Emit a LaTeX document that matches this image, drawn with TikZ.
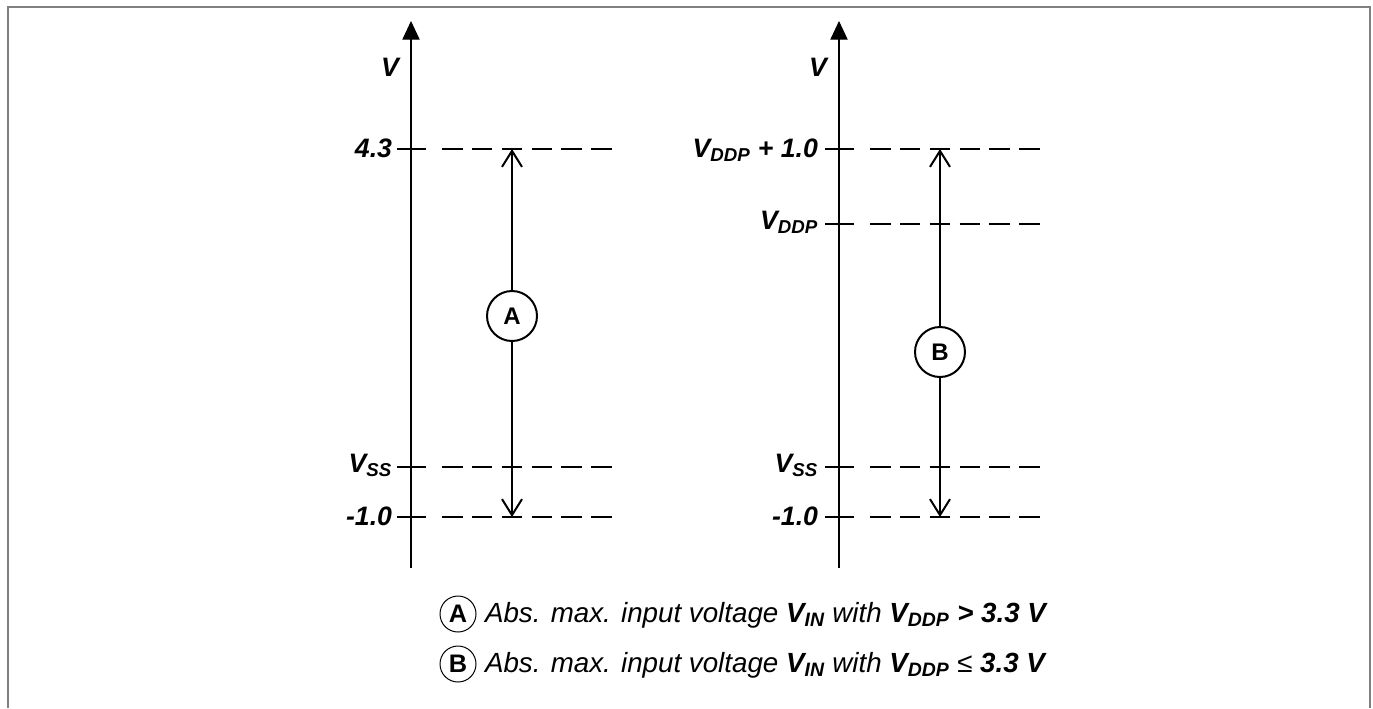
\documentclass[tikz,border=0pt]{standalone}
\usepackage{fontspec}
\setmainfont{Liberation Sans}
\usetikzlibrary{arrows.meta}
\tikzset{vdiag/.style={x=0.75pt,y=-0.75pt,line width=1.5pt},
  lvl/.style={line width=1.5pt,dash pattern=on 15.4pt off 7pt},
  vlab/.style={anchor=base east,inner sep=0pt,font=\fontsize{20}{24}\selectfont\bfseries\itshape},
  rng/.style={draw,circle,fill=white,line width=1.5pt,minimum size=37.5pt,inner sep=0pt,font=\fontsize{18}{20}\selectfont\bfseries},
  key/.style={draw,circle,line width=0.75pt,minimum size=27pt,inner sep=0pt,font=\fontsize{19}{20}\selectfont\bfseries},
  keytxt/.style={anchor=base west,inner sep=0pt,font=\fontsize{20.8}{24}\selectfont\itshape}}
\newcommand{\vsub}[1]{\textsubscript{#1}}

\begin{document}
\begin{tikzpicture}[vdiag]
    \useasboundingbox (0,0) rectangle (1373,708);
    \draw[black!50] (8,708) |- (1370,7) -- (1370,708);
    % axes
    \foreach \ax/\nm in {411/L,839/R} {
      \coordinate (bot\nm) at (\ax,568);
      \coordinate (top\nm) at (\ax,21);
      \draw[line width=0.8pt,-{Triangle[length=14pt,width=13pt]}] (bot\nm) -- (top\nm);
      \node[vlab] (v\nm) at ({\ax-11},76) {V};
    }
    % levels: y, label  (left diagram)
    \foreach \y/\lab/\dy in {149/4.3/8, 467/V\vsub{SS}/5, 517/-1.0/8} {
      \draw (397,\y) -- (426,\y);
      \draw[lvl] (442,\y) -- (614,\y);
      \node[vlab] at (393,\y+\dy) {\lab};
    }
    % levels (right diagram)
    \foreach \y/\lab/\dy in {149/V\vsub{DDP} + 1.0/8, 224/V\vsub{DDP}/5, 467/V\vsub{SS}/5, 517/-1.0/8} {
      \draw (825,\y) -- (854,\y);
      \draw[lvl] (870,\y) -- (1042,\y);
      \node[vlab] at (819,\y+\dy) {\lab};
    }
    % ranges
    \coordinate (hiA) at (512,149);
    \coordinate (loA) at (512,517);
    \coordinate (hiB) at (940,149);
    \coordinate (loB) at (940,517);
    \node[rng] (rngA) at (512,316) {A};
    \node[rng] (rngB) at (940,352) {B};
    \foreach \r in {A,B} {
      \draw[-{Straight Barb[length=12pt,width=15pt]}] (rng\r) -- (hi\r);
      \draw[-{Straight Barb[length=12pt,width=15pt]}] (rng\r) -- (lo\r);
    }
    % legend
    \node[key] (keyA) at (458,614) {A};
    \node[key] (keyB) at (458,664) {B};
    \node[keytxt] (txtA) at (484,622) {Abs. max. input voltage \textbf{V\vsub{IN}} with \textbf{V\vsub{DDP} > 3.3 V}};
    \node[keytxt] (txtB) at (484,672) {Abs. max. input voltage \textbf{V\vsub{IN}} with \textbf{V\vsub{DDP}} ≤ \textbf{3.3 V}};
\end{tikzpicture}
\end{document}
